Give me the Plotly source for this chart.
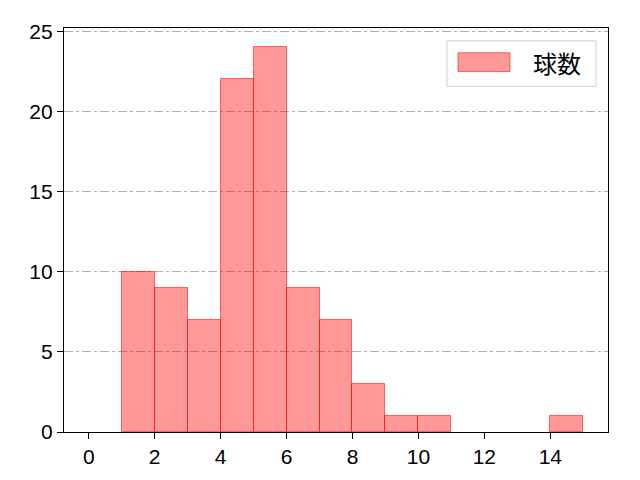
import plotly.graph_objects as go

bin_left = [1, 2, 3, 4, 5, 6, 7, 8, 9, 10, 14]
counts = [10, 9, 7, 22, 24, 9, 7, 3, 1, 1, 1]
series_name = "球数"
x_ticks = [0, 2, 4, 6, 8, 10, 12, 14]
y_ticks = [0, 5, 10, 15, 20, 25]

centers = [b + 0.5 for b in bin_left]

fill = "rgba(255,0,0,0.4)"
edge = "rgba(255,0,0,0.55)"

fig = go.Figure()
fig.add_trace(go.Bar(
    x=centers, y=counts, width=1, name=series_name,
    marker=dict(color=fill, line=dict(color=edge, width=1)),
    showlegend=False,
))

# plot-area pixel geometry (in the 640x480 page): x 64..608, y 24..432
def px(x):
    return (x - 64) / 544.0

def py(y):
    return (432 - y) / 408.0

shapes = [
    dict(type="rect", xref="paper", yref="paper",
         x0=px(447), x1=px(596), y0=py(83), y1=py(37),
         line=dict(color="#d0d0d0", width=1), fillcolor="rgba(255,255,255,0.8)", layer="above"),
    dict(type="rect", xref="paper", yref="paper",
         x0=px(458), x1=px(510), y0=py(68), y1=py(49),
         line=dict(color=edge, width=1), fillcolor=fill, layer="above"),
]
annotations = [
    dict(xref="paper", yref="paper", x=px(531), y=py(59), xanchor="left", yanchor="middle",
         text=series_name, showarrow=False,
         font=dict(family="Noto Sans CJK JP", size=24, color="black")),
]

fig.update_layout(
    width=632, height=472,
    margin=dict(l=56, r=32, t=16, b=48),
    plot_bgcolor="white", paper_bgcolor="white",
    font=dict(family="Liberation Sans, Arial, sans-serif", size=21, color="black"),
    bargap=0,
    showlegend=False,
    shapes=shapes,
    annotations=annotations,
    xaxis=dict(range=[-0.75, 15.75], tickvals=x_ticks, ticks="outside", ticklen=6,
               tickcolor="black", tickwidth=1.2,
               showline=True, linecolor="black", linewidth=1.2, mirror=True,
               showgrid=False, zeroline=False),
    yaxis=dict(range=[0, 25.2], tickvals=y_ticks, ticks="outside", ticklen=6,
               tickcolor="black", tickwidth=1.2,
               showline=True, linecolor="black", linewidth=1.2, mirror=True,
               showgrid=True, gridcolor="#b0b0b0", griddash="dashdot", gridwidth=1,
               zeroline=False),
)
fig.write_html("out.html")
